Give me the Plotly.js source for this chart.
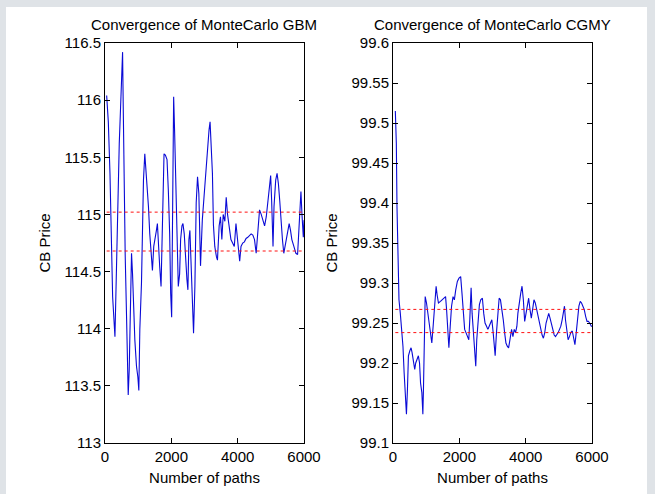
<!DOCTYPE html>
<html>
<head>
<meta charset="utf-8">
<script src="https://cdn.plot.ly/plotly-3.0.1.min.js"></script>
<style>
  html, body { margin: 0; padding: 0; background: #dfe3e7; width: 655px; height: 494px; overflow: hidden; }
  #chart { position: absolute; left: 6px; top: 7px; width: 641px; height: 487px; background: #ffffff; }
</style>
</head>
<body>
<div id="chart"></div>
<script>
// ---- Data ----
const gbmPaths = [50,100,150,230,300,350,400,430,470,500,530,550,580,610,650,700,730,770,800,830,850,900,950,990,1020,1050,1100,1130,1160,1200,1230,1270,1310,1350,1400,1430,1470,1510,1550,1580,1610,1650,1690,1730,1780,1820,1870,1910,1950,1980,2010,2040,2070,2100,2140,2170,2210,2250,2280,2320,2350,2390,2430,2470,2500,2530,2560,2590,2630,2670,2710,2750,2790,2830,2880,2934,2985,3036,3086,3137,3168,3198,3239,3269,3310,3360,3391,3442,3482,3523,3564,3614,3655,3695,3746,3797,3848,3898,3949,4000,4061,4101,4152,4203,4254,4305,4355,4406,4457,4508,4558,4609,4660,4710,4761,4812,4863,4913,4964,4995,5025,5066,5096,5147,5188,5228,5269,5310,5350,5391,5431,5492,5553,5594,5634,5695,5756,5807,5847,5878,5908,5939,5980,6000];
const gbmPrice = [116.04,115.81,115.36,114.28,113.93,114.63,115.21,115.62,115.94,116.26,116.42,115.94,115.21,114.63,114.1,113.42,113.64,114.19,114.66,114.48,114.25,113.9,113.67,113.58,113.46,113.99,114.4,114.83,115.3,115.53,115.42,115.27,115.07,114.83,114.63,114.51,114.72,114.78,114.86,114.92,114.72,114.54,114.37,114.9,115.53,115.52,115.48,115.21,114.83,114.31,114.1,115.07,116.03,115.71,115.13,114.63,114.37,114.48,114.78,114.9,114.92,114.83,114.6,114.43,114.34,114.78,114.86,114.63,114.25,113.96,114.37,115.1,115.33,115.18,114.55,114.95,115.15,115.36,115.56,115.74,115.81,115.65,115.36,114.91,114.72,114.63,114.6,114.9,114.98,114.78,115.0,114.94,115.15,115.0,114.86,114.78,114.75,114.72,114.92,114.78,114.59,114.72,114.75,114.76,114.79,114.8,114.82,114.83,114.82,114.78,114.66,114.86,115.04,115.0,114.94,114.9,114.98,115.12,115.3,115.34,115.12,114.72,115.07,115.3,115.36,115.27,115.12,114.9,114.78,114.66,114.72,114.83,114.92,114.86,114.78,114.72,114.66,114.65,114.86,115.12,115.2,115.0,114.8,114.95];
const gbmBand = [115.02, 114.68];

const cgmyPaths = [70,100,120,150,180,220,260,300,335,375,405,435,465,505,545,575,615,655,685,725,765,800,830,870,900,920,940,970,1010,1050,1090,1130,1170,1210,1260,1300,1330,1370,1430,1485,1535,1585,1615,1655,1685,1725,1765,1810,1850,1890,1940,1990,2040,2080,2120,2160,2200,2240,2285,2315,2355,2385,2425,2455,2495,2525,2565,2605,2645,2695,2735,2775,2820,2860,2900,2940,2980,3020,3050,3080,3120,3160,3200,3240,3285,3325,3365,3405,3445,3485,3525,3575,3615,3655,3695,3735,3765,3810,3850,3890,3930,3970,4010,4050,4090,4130,4170,4210,4250,4290,4330,4375,4415,4455,4495,4535,4575,4615,4655,4695,4735,4775,4820,4860,4900,4940,4980,5020,5060,5100,5140,5170,5200,5240,5280,5320,5360,5405,5445,5485,5525,5565,5605,5645,5685,5725,5765,5810,5850,5890,5930,5980,6000];
const cgmyPrice = [99.515,99.474,99.395,99.312,99.279,99.262,99.246,99.221,99.188,99.155,99.136,99.167,99.209,99.215,99.219,99.213,99.2,99.192,99.2,99.206,99.209,99.2,99.175,99.163,99.136,99.171,99.246,99.283,99.275,99.262,99.254,99.238,99.225,99.246,99.275,99.296,99.285,99.275,99.277,99.279,99.281,99.283,99.267,99.242,99.219,99.246,99.271,99.283,99.279,99.291,99.302,99.306,99.308,99.287,99.258,99.242,99.238,99.233,99.229,99.254,99.294,99.262,99.238,99.213,99.196,99.229,99.254,99.273,99.279,99.281,99.262,99.25,99.246,99.242,99.246,99.25,99.254,99.238,99.225,99.209,99.238,99.262,99.281,99.279,99.267,99.254,99.238,99.225,99.221,99.219,99.229,99.242,99.233,99.242,99.238,99.246,99.262,99.279,99.287,99.296,99.279,99.252,99.262,99.271,99.281,99.267,99.256,99.267,99.279,99.275,99.267,99.258,99.25,99.242,99.235,99.231,99.238,99.25,99.258,99.262,99.256,99.25,99.242,99.235,99.233,99.235,99.238,99.242,99.246,99.254,99.267,99.271,99.254,99.238,99.229,99.233,99.238,99.24,99.229,99.223,99.238,99.258,99.271,99.277,99.275,99.271,99.267,99.258,99.252,99.252,99.25,99.246,99.246];
const cgmyBand = [99.267, 99.238];

const titles = ["Convergence of MonteCarlo GBM", "Convergence of MonteCarlo CGMY"];
const xTitle = "Number of paths";
const yTitle = "CB Price";

// ---- Traces ----
const blue = "#0a0ad6";
const red = "#ff1010";
function bandTraces(xs, band, xa, ya) {
  return band.map(v => ({
    x: [xs[0], xs[xs.length - 1]], y: [v, v], xaxis: xa, yaxis: ya,
    mode: "lines", line: { color: red, width: 1, dash: "dot" }, hoverinfo: "skip"
  }));
}
const traces = [
  { x: gbmPaths, y: gbmPrice, xaxis: "x", yaxis: "y", mode: "lines", line: { color: blue, width: 1.1 } },
  ...bandTraces(gbmPaths, gbmBand, "x", "y"),
  { x: cgmyPaths, y: cgmyPrice, xaxis: "x2", yaxis: "y2", mode: "lines", line: { color: blue, width: 1.1 } },
  ...bandTraces(cgmyPaths, cgmyBand, "x2", "y2")
];

const font = { family: "Liberation Sans, Arial, sans-serif", size: 15, color: "#000000" };
function xAxis(domain, anchor) {
  return {
    domain: domain, anchor: anchor, range: [0, 6000], tickvals: [0, 2000, 4000, 6000],
    ticks: "inside", ticklen: 5, tickcolor: "#000", showline: true, linecolor: "#000", linewidth: 1,
    mirror: "ticks", showgrid: false, zeroline: false, tickfont: font,
    title: { text: xTitle, font: font, standoff: 8 }
  };
}
function yAxis(range, dtick, anchor) {
  return {
    anchor: anchor, range: range, dtick: dtick, tick0: range[0],
    ticks: "inside", ticklen: 5, tickcolor: "#000", showline: true, linecolor: "#000", linewidth: 1,
    mirror: "ticks", showgrid: false, zeroline: false, tickfont: font,
    title: { text: yTitle, font: font, standoff: 10 }
  };
}
const d1 = [0, 0.4086], d2 = [0.5914, 1];
const layout = {
  width: 641, height: 487,
  margin: { l: 99, r: 55, t: 36, b: 51 },
  paper_bgcolor: "#ffffff", plot_bgcolor: "#ffffff",
  showlegend: false, font: font,
  xaxis: xAxis(d1, "y"), yaxis: yAxis([113, 116.5], 0.5, "x"),
  xaxis2: xAxis(d2, "y2"), yaxis2: yAxis([99.1, 99.6], 0.05, "x2"),
  annotations: [
    { text: titles[0], xref: "paper", yref: "paper", x: (d1[0] + d1[1]) / 2, y: 1, xanchor: "center", yanchor: "bottom", yshift: 8, showarrow: false, font: font },
    { text: titles[1], xref: "paper", yref: "paper", x: (d2[0] + d2[1]) / 2, y: 1, xanchor: "center", yanchor: "bottom", yshift: 8, showarrow: false, font: font }
  ]
};
Plotly.newPlot("chart", traces, layout, { staticPlot: true, displayModeBar: false });
</script>
</body>
</html>
